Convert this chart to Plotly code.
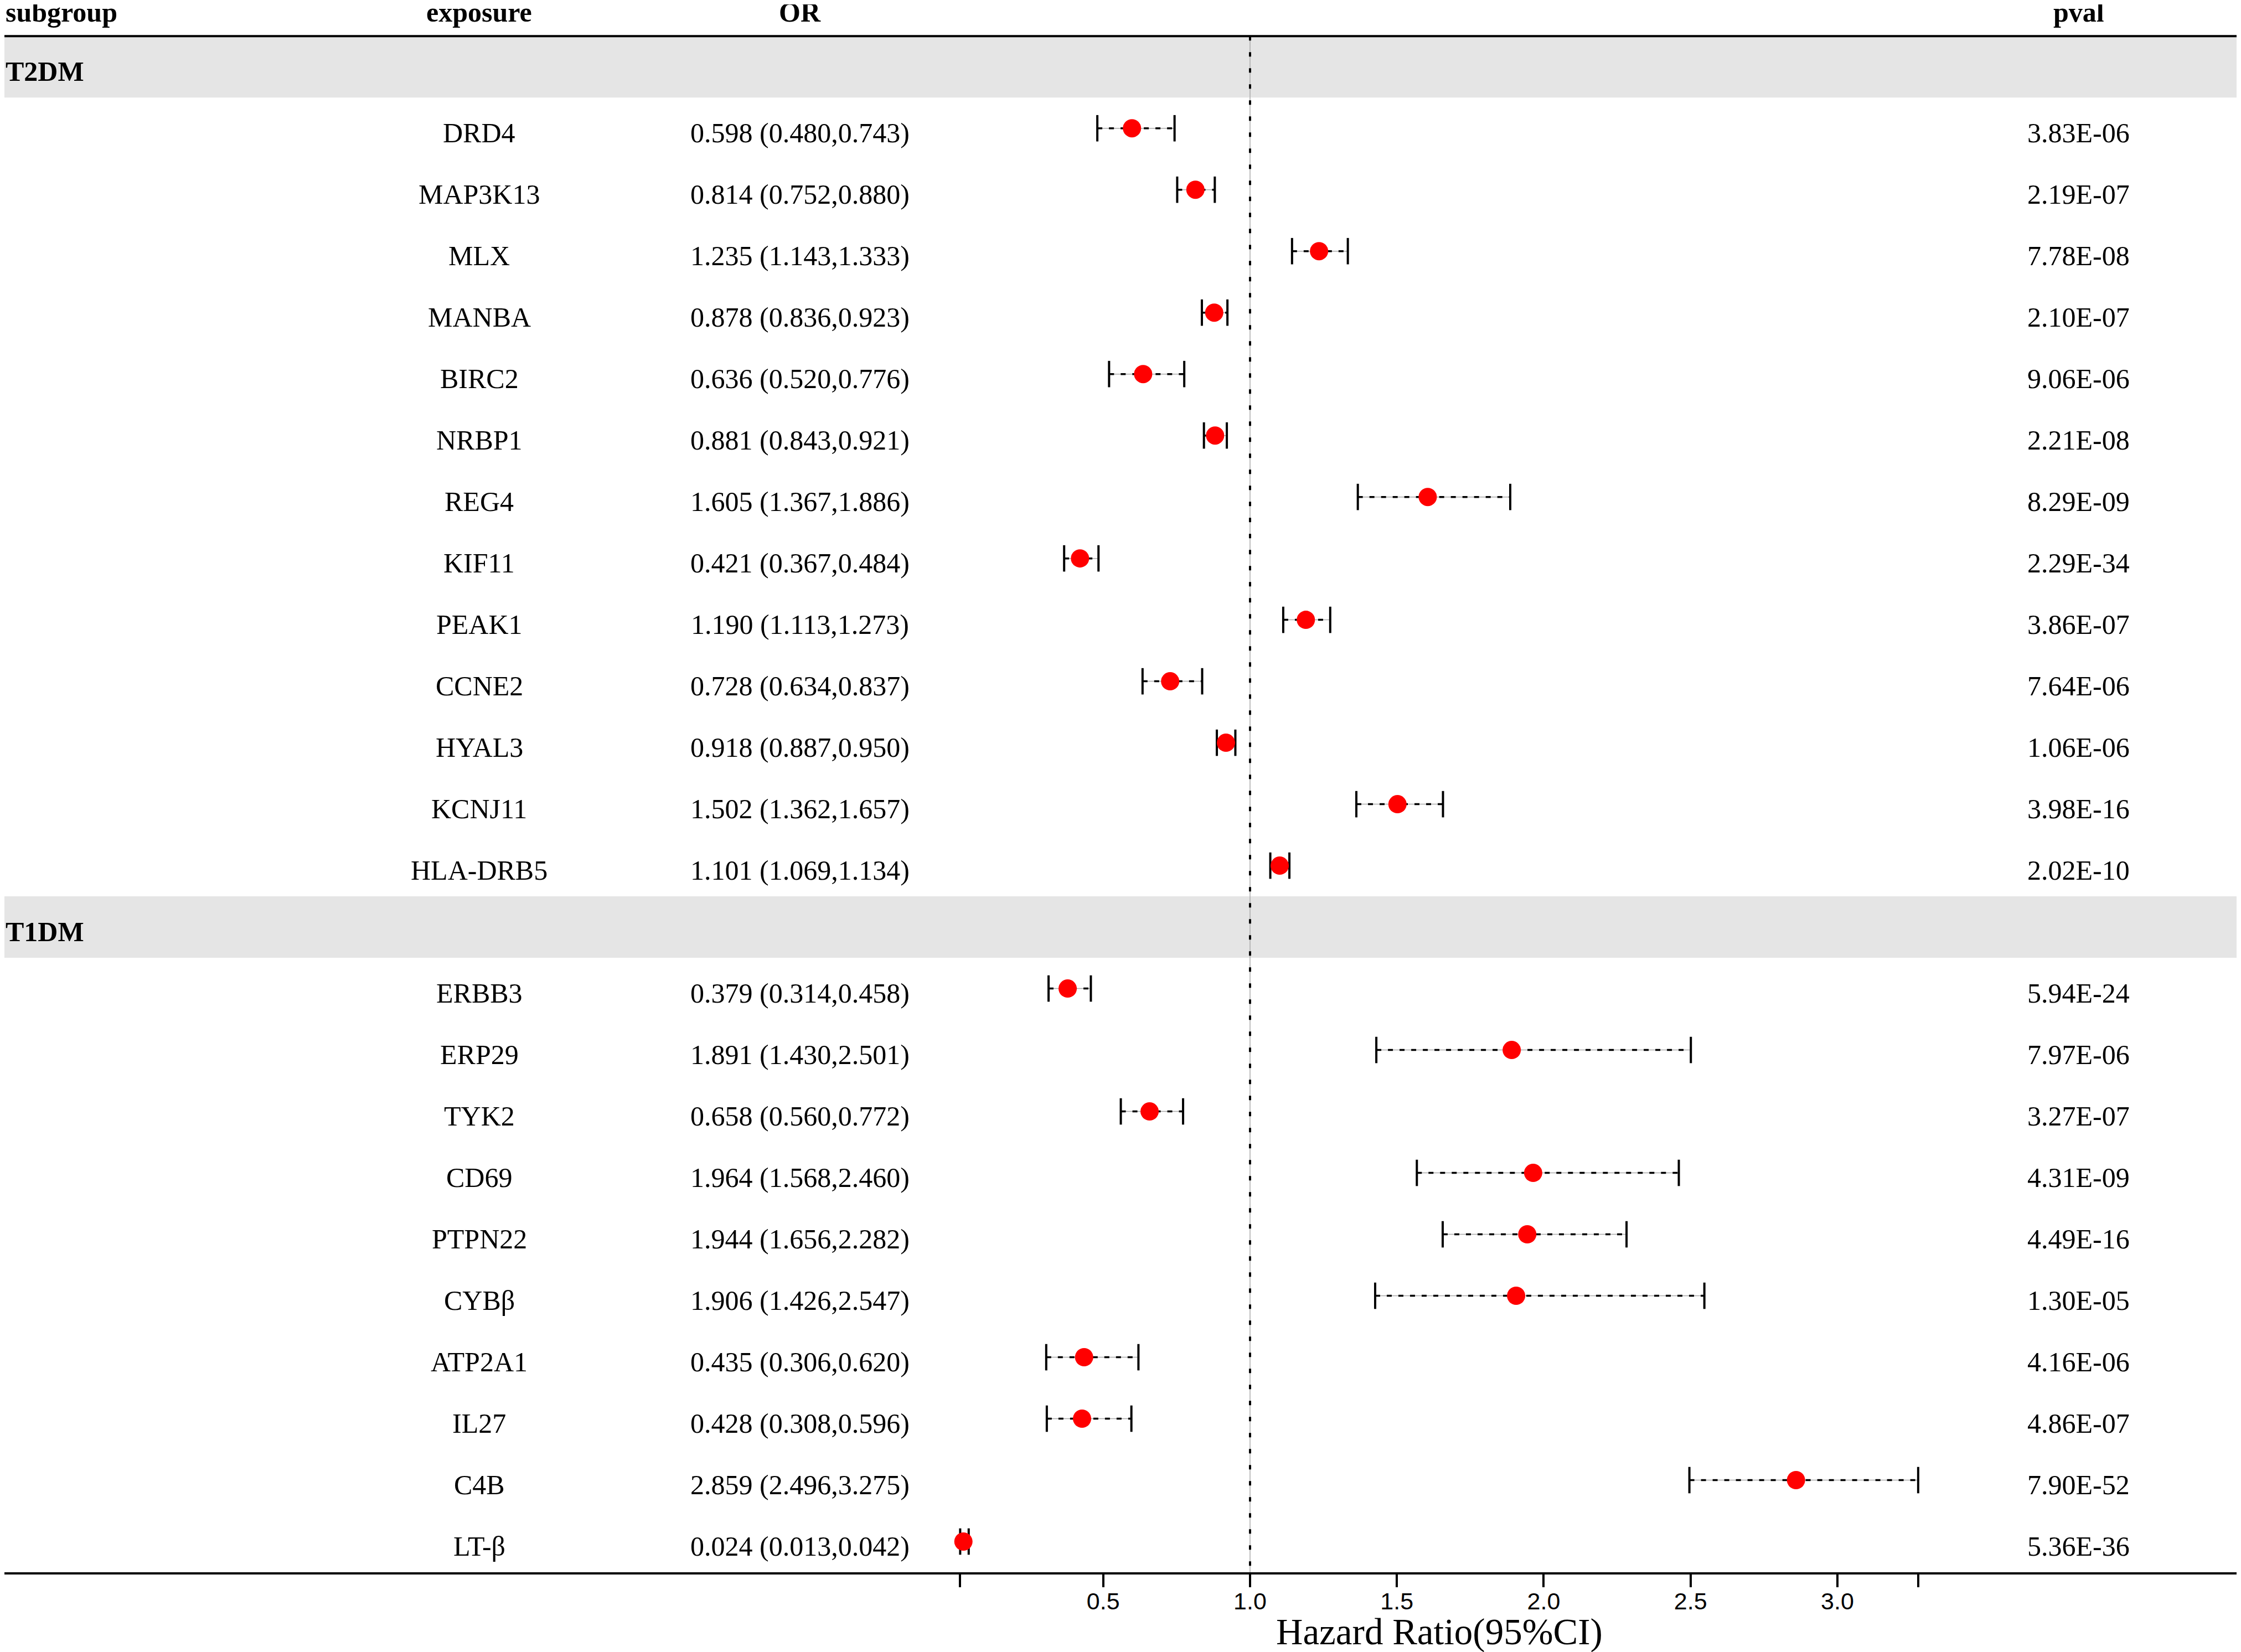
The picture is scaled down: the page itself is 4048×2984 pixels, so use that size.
import plotly.graph_objects as go

# data
groups = ['T2DM', 'T1DM']

t2dm_genes = ['DRD4', 'MAP3K13', 'MLX', 'MANBA', 'BIRC2', 'NRBP1', 'REG4', 'KIF11',
              'PEAK1', 'CCNE2', 'HYAL3', 'KCNJ11', 'HLA-DRB5']
t2dm_or = [0.598, 0.814, 1.235, 0.878, 0.636, 0.881, 1.605, 0.421, 1.190, 0.728, 0.918, 1.502, 1.101]
t2dm_lo = [0.480, 0.752, 1.143, 0.836, 0.520, 0.843, 1.367, 0.367, 1.113, 0.634, 0.887, 1.362, 1.069]
t2dm_hi = [0.743, 0.880, 1.333, 0.923, 0.776, 0.921, 1.886, 0.484, 1.273, 0.837, 0.950, 1.657, 1.134]
t2dm_p = ['3.83E-06', '2.19E-07', '7.78E-08', '2.10E-07', '9.06E-06', '2.21E-08', '8.29E-09',
          '2.29E-34', '3.86E-07', '7.64E-06', '1.06E-06', '3.98E-16', '2.02E-10']

t1dm_genes = ['ERBB3', 'ERP29', 'TYK2', 'CD69', 'PTPN22', 'CYBβ', 'ATP2A1', 'IL27', 'C4B', 'LT-β']
t1dm_or = [0.379, 1.891, 0.658, 1.964, 1.944, 1.906, 0.435, 0.428, 2.859, 0.024]
t1dm_lo = [0.314, 1.430, 0.560, 1.568, 1.656, 1.426, 0.306, 0.308, 2.496, 0.013]
t1dm_hi = [0.458, 2.501, 0.772, 2.460, 2.282, 2.547, 0.620, 0.596, 3.275, 0.042]
t1dm_p = ['5.94E-24', '7.97E-06', '3.27E-07', '4.31E-09', '4.49E-16', '1.30E-05', '4.16E-06',
          '4.86E-07', '7.90E-52', '5.36E-36']

tick_vals = [0.5, 1.0, 1.5, 2.0, 2.5, 3.0]

# build rows: group header row followed by its genes
genes, ors, los, his, pvals, rows, head_rows = [], [], [], [], [], [], []
r = 0
for g, gn, o, lo, hi, p in [(groups[0], t2dm_genes, t2dm_or, t2dm_lo, t2dm_hi, t2dm_p),
                            (groups[1], t1dm_genes, t1dm_or, t1dm_lo, t1dm_hi, t1dm_p)]:
    head_rows.append(r)
    r += 1
    for i in range(len(gn)):
        genes.append(gn[i]); ors.append(o[i]); los.append(lo[i]); his.append(hi[i]); pvals.append(p[i])
        rows.append(r)
        r += 1
n_rows = r

xmin, xmax = min(los), max(his)

SERIF = 'Liberation Serif'
fig = go.Figure()

# CI segments (thin grey line under black dashes)
ci_x, ci_y = [], []
for lo, hi, y in zip(los, his, rows):
    ci_x += [lo, hi, None]
    ci_y += [y, y, None]
fig.add_trace(go.Scatter(x=ci_x, y=ci_y, mode='lines', line=dict(color='#aaaaaa', width=1.5),
                         hoverinfo='skip', showlegend=False))
fig.add_trace(go.Scatter(x=ci_x, y=ci_y, mode='lines',
                         line=dict(color='black', width=3.5, dash='9px,12px'),
                         hoverinfo='skip', showlegend=False))
# caps
fig.add_trace(go.Scatter(x=los + his, y=rows + rows, mode='markers',
                         marker=dict(symbol='line-ns', size=34, line=dict(width=4, color='black')),
                         hoverinfo='skip', showlegend=False))
# point estimates
fig.add_trace(go.Scatter(x=ors, y=rows, mode='markers',
                         marker=dict(color='#ff0000', size=33),
                         text=genes, showlegend=False))

shapes = []
for hr in head_rows:
    shapes.append(dict(type='rect', xref='paper', yref='y', x0=0, x1=1, y0=hr - 0.5, y1=hr + 0.5,
                       fillcolor='#e5e5e5', line=dict(width=0), layer='below'))
shapes.append(dict(type='line', xref='x', yref='y', x0=1, x1=1, y0=-0.5, y1=n_rows - 0.5,
                   line=dict(color='#aaaaaa', width=1.5), layer='below'))
shapes.append(dict(type='line', xref='x', yref='y', x0=1, x1=1, y0=-0.5, y1=n_rows - 0.5,
                   line=dict(color='black', width=4, dash='8px,21px'), layer='below'))
shapes.append(dict(type='line', xref='paper', yref='y', x0=0, x1=1, y0=-0.5, y1=-0.5,
                   line=dict(color='black', width=4)))

ann = []
col_sub, col_exp, col_or, col_p = 0.0, 0.2126, 0.3561, 0.9286
ys = -8
hdr = dict(size=50, family=SERIF, color='black')
for txt, xp, anc in [('<b>subgroup</b>', col_sub, 'left'), ('<b>exposure</b>', col_exp, 'center'),
                     ('<b>OR</b>', col_or, 'center'), ('<b>pval</b>', col_p, 'center')]:
    ann.append(dict(x=xp, y=-1, xref='paper', yref='y', text=txt, showarrow=False,
                    xanchor=anc, yanchor='middle', yshift=-12, font=hdr))
for g, hr in zip(groups, head_rows):
    ann.append(dict(x=0.0, y=hr, xref='paper', yref='y', text='<b>' + g + '</b>', showarrow=False,
                    xanchor='left', yanchor='middle', yshift=ys,
                    font=dict(size=50, family=SERIF, color='black')))
body = dict(size=50, family=SERIF, color='black')
for g, o, lo, hi, p, y in zip(genes, ors, los, his, pvals, rows):
    ann.append(dict(x=col_exp, y=y, xref='paper', yref='y', text=g, showarrow=False,
                    xanchor='center', yanchor='middle', yshift=ys, font=body))
    ann.append(dict(x=col_or, y=y, xref='paper', yref='y', text=f'{o:.3f} ({lo:.3f},{hi:.3f})',
                    showarrow=False, xanchor='center', yanchor='middle', yshift=ys, font=body))
    ann.append(dict(x=col_p, y=y, xref='paper', yref='y', text=p, showarrow=False,
                    xanchor='center', yanchor='middle', yshift=ys, font=body))
ann.append(dict(x=(xmin + xmax) / 2, y=-0.0378, xref='x', yref='paper', text='Hazard Ratio(95%CI)',
                showarrow=False, xanchor='center', yanchor='middle',
                font=dict(size=67, family=SERIF, color='black')))

fig.update_layout(
    width=4040, height=2976,
    margin=dict(l=0, r=5, t=0, b=144),
    plot_bgcolor='white', paper_bgcolor='white',
    shapes=shapes, annotations=ann,
    xaxis=dict(range=[-3.2413, 4.3648], showgrid=False, zeroline=False,
               showline=True, linecolor='black', linewidth=4,
               ticks='outside', ticklen=23, tickwidth=4, tickcolor='black',
               tickvals=[xmin] + tick_vals + [xmax],
               ticktext=[''] + [f'{v:.1f}' for v in tick_vals] + [''],
               ticklabelstandoff=-12,
               tickfont=dict(size=43, family='Liberation Sans', color='black')),
    yaxis=dict(range=[n_rows - 0.5, -1.0153], visible=False, showgrid=False, zeroline=False),
)

fig.write_html("out.html")
